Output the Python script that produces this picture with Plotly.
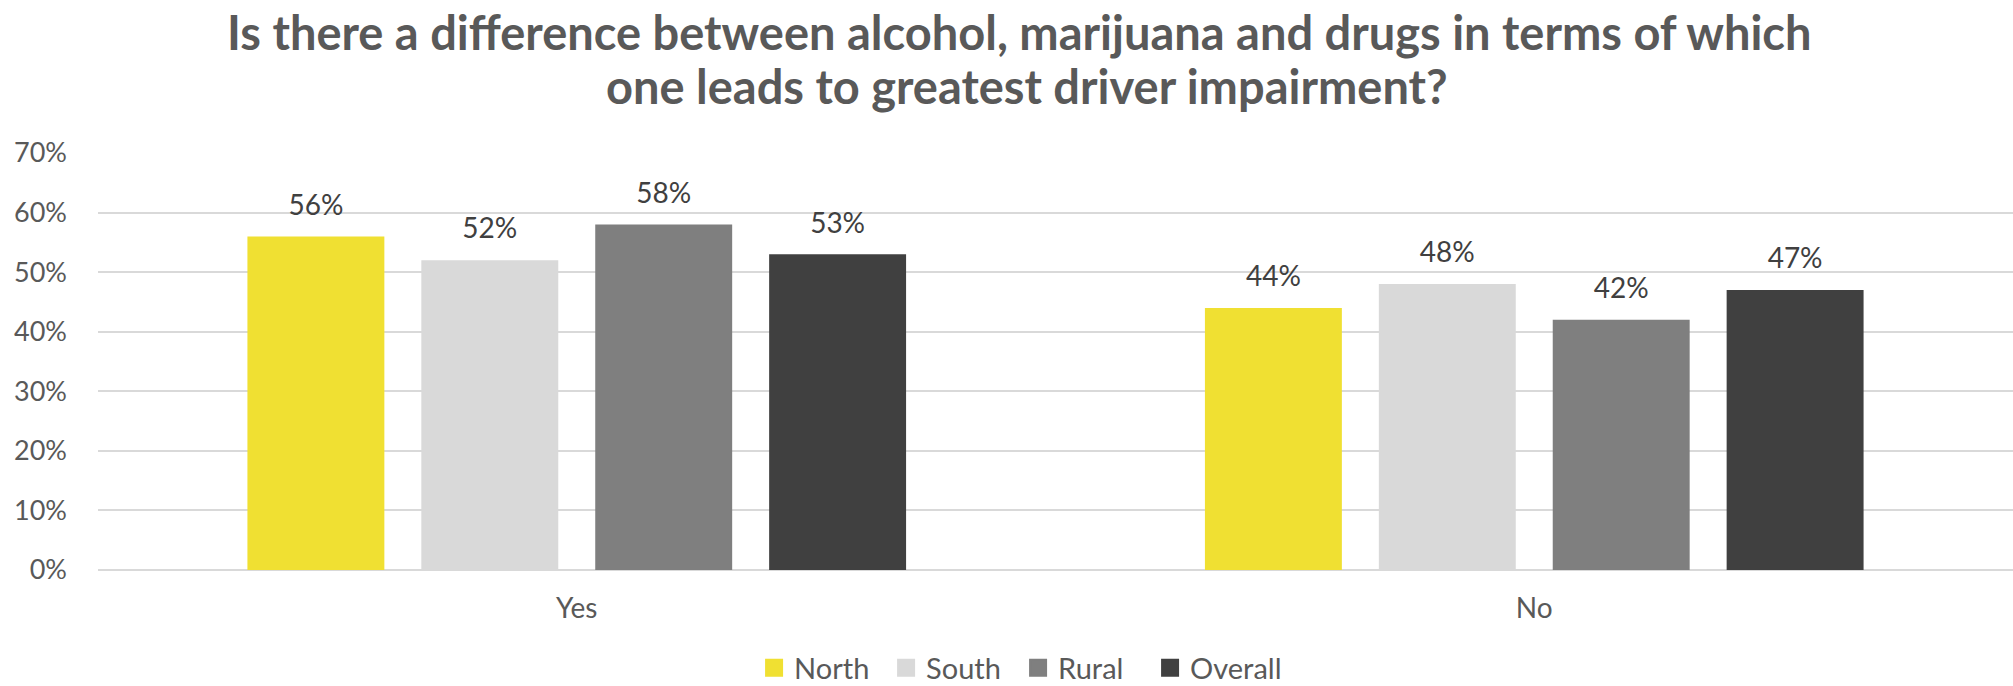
import plotly.graph_objects as go

# Survey responses by region
categories = ["Yes", "No"]
series_names = ["North", "South", "Rural", "Overall"]
north = [0.56, 0.44]
south = [0.52, 0.48]
rural = [0.58, 0.42]
overall = [0.53, 0.47]
colors = ["#F0E032", "#D9D9D9", "#7F7F7F", "#404040"]

y_ticks = [0, 0.1, 0.2, 0.3, 0.4, 0.5, 0.6, 0.7]
y_tick_labels = ["0%", "10%", "20%", "30%", "40%", "50%", "60%", "70%"]

title_lines = [
    "Is there a difference between alcohol, marijuana and drugs in terms of which",
    "one leads to greatest driver impairment?",
]

FONT = "Lato"
BARGAP = 0.2735

fig = go.Figure()
for name, vals, col in zip(series_names, [north, south, rural, overall], colors):
    fig.add_trace(go.Bar(
        name=name,
        x=categories,
        y=vals,
        offsetgroup=name,
        marker=dict(color=col, line=dict(width=0)),
        showlegend=False,
    ))

# Value labels: invisible markers sitting on each bar top, text above them
for name, vals in zip(series_names, [north, south, rural, overall]):
    fig.add_trace(go.Scatter(
        x=categories,
        y=vals,
        offsetgroup=name,
        mode="markers+text",
        marker=dict(size=22, opacity=0),
        text=[f"{v:.0%}" for v in vals],
        textposition="top center",
        textfont=dict(family=FONT, size=28, color="#404040"),
        showlegend=False,
        hoverinfo="skip",
        cliponaxis=False,
    ))

# Legend entries with square swatches
for name, col in zip(series_names, colors):
    fig.add_trace(go.Scatter(
        x=[None],
        y=[None],
        offsetgroup=name,
        mode="markers",
        name=name,
        marker=dict(symbol="square", size=16, color=col, line=dict(width=2, color=col)),
        hoverinfo="skip",
    ))

# Two-line chart title
for line, xpos, ypos in zip(title_lines, [0.481, 0.485], [1.2902, 1.1607]):
    fig.add_annotation(
        text=line,
        font=dict(family=FONT, size=47, color="#595959", weight="bold"),
        xref="paper", yref="paper",
        x=xpos, y=ypos,
        xanchor="center", yanchor="middle",
        showarrow=False,
    )

fig.update_layout(
    width=2013,
    height=686,
    paper_bgcolor="white",
    plot_bgcolor="white",
    margin=dict(l=98, r=0, t=153, b=116, autoexpand=False),
    barmode="group",
    bargap=BARGAP,
    bargroupgap=0.2126,
    scattermode="group",
    scattergap=BARGAP,
    xaxis=dict(
        tickfont=dict(family=FONT, size=28, color="#595959"),
        showgrid=False,
        showline=False,
        ticks="",
        ticklabelstandoff=19,
    ),
    yaxis=dict(
        range=[0, 0.7],
        tickvals=y_ticks,
        ticktext=y_tick_labels,
        tickfont=dict(family=FONT, size=27, color="#595959"),
        showgrid=True,
        gridcolor="#D9D9D9",
        gridwidth=2,
        zeroline=True,
        zerolinecolor="#D9D9D9",
        zerolinewidth=2,
        ticks="",
        ticklabelstandoff=30,
    ),
    legend=dict(
        orientation="h",
        x=0.3426,
        xanchor="left",
        y=-0.235,
        yanchor="middle",
        font=dict(family=FONT, size=29, color="#595959"),
        itemwidth=30,
        entrywidth=87,
        entrywidthmode="pixels",
        tracegroupgap=0,
    ),
    showlegend=True,
)

fig.write_html("out.html")
